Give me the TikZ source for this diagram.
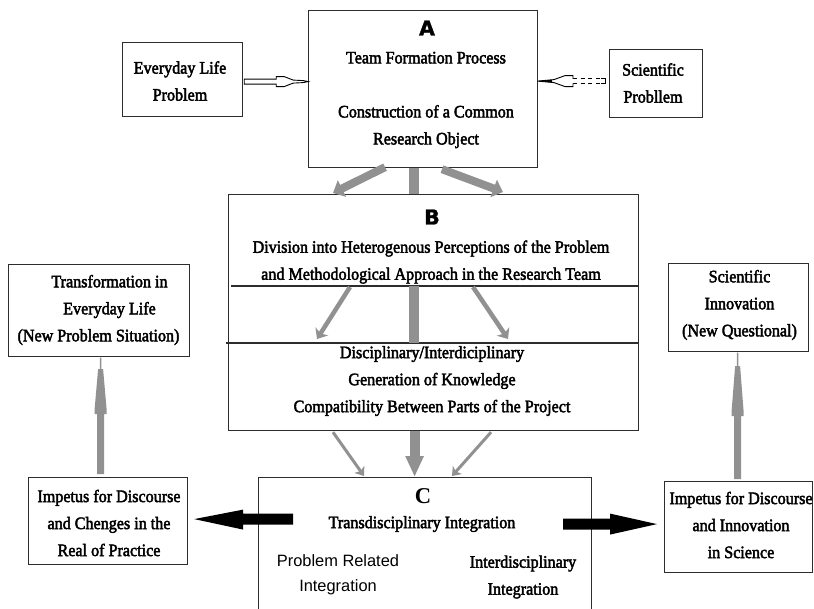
\documentclass[tikz,border=0pt]{standalone}
\usepackage{fontspec}
\setmainfont{Liberation Serif}
\newfontfamily\captxt[FakeStretch=0.92,FakeBold=2.5]{Liberation Serif}
\newfontfamily\heavysans[FakeBold=1.2]{DejaVu Sans Bold}
\newfontfamily\plainsans{Liberation Sans}
\usetikzlibrary{arrows.meta,calc}
\definecolor{arrowgray}{RGB}{145,145,145}
\definecolor{frame}{RGB}{45,45,45}
\begin{document}
\begin{tikzpicture}[x=1pt,y=-1pt,
  box/.style={draw=frame, line width=1.2pt, inner sep=0pt, anchor=north west},
  txt/.style={font=\captxt\fontsize{17.5}{27}\selectfont, align=center, inner sep=0pt},
  sanstxt/.style={font=\plainsans\fontsize{16.4}{25}\selectfont, align=center, inner sep=0pt},
  letter/.style={font=\heavysans\fontsize{20.5}{22}\selectfont, inner sep=0pt},
  thickgray/.style={draw=arrowgray, line width=8pt, -{Triangle[length=10pt,width=18pt]}},
  midgray/.style={draw=arrowgray, line width=4.5pt, -{Stealth[length=9pt,width=15pt,inset=2.5pt]}},
  thingray/.style={draw=arrowgray, line width=3pt, -{Stealth[length=8pt,width=12pt,inset=2pt]}},
  bargray/.style={draw=arrowgray, line width=10pt},
  spike/.style={fill=arrowgray, draw=none},
  blockarrow/.style={fill=black, draw=none},
  hollow/.style={draw=black, fill=white, line width=0.9pt, line join=miter}
]
\useasboundingbox (0,0) rectangle (814,609);
\clip (0,0) rectangle (814,609);

% ---------- boxes ----------
\node[box, minimum width=229pt, minimum height=157pt] (boxA) at (308,10) {};
\node[box, minimum width=120pt, minimum height=74pt] (boxEv) at (122,42) {};
\node[box, minimum width=93pt, minimum height=68pt] (boxSci) at (609,49) {};
\node[box, minimum width=410pt, minimum height=236pt] (boxB) at (228,194) {};
\node[box, minimum width=333pt, minimum height=145pt] (boxC) at (258,477) {};
\node[box, minimum width=181pt, minimum height=92pt] (boxTr) at (8,264) {};
\node[box, minimum width=159pt, minimum height=87pt] (boxImpL) at (28,477) {};
\node[box, minimum width=140pt, minimum height=88pt] (boxSciI) at (668,263) {};
\node[box, minimum width=148pt, minimum height=91pt] (boxImpR) at (664,481) {};

% dividing lines inside B
\draw[frame, line width=1.2pt] ($(boxB.north west)+(3,92)$) -- ($(boxB.north east)+(0,92)$);
\draw[frame, line width=1.2pt] ($(boxB.north west)+(-2,149)$) -- ($(boxB.north east)+(0,149)$);

% ---------- texts ----------
\node[letter] (Ahead) at (427,28) {A};
\node[txt] (Atxt) at (426,100) {Team Formation Process\\[27pt]Construction of a Common\\Research Object};
\node[txt] (evtxt) at (180,81) {Everyday Life\\Problem};
\node[txt] (scitxt) at (653,83) {Scientific\\Probllem};
\node[letter] (Bhead) at (432,217) {B};
\node[txt] (Btop) at (431,262) {Division into Heterogenous Perceptions of the Problem\\and Methodological Approach in the Research Team};
\node[txt] (Bbottom) at (432,381) {Disciplinary/Interdiciplinary\\Generation of Knowledge\\Compatibility Between Parts of the Project};
\node[font=\bfseries\fontsize{22.6}{24}\selectfont, inner sep=0pt] (Chead) at (423,496) {C};
\node[txt] (Ctxt) at (422,524) {Transdisciplinary Integration};
\node[sanstxt] (Cleft) at (338,575) {Problem Related\\Integration};
\node[txt] (Cright) at (523,577) {Interdisciplinary\\Integration};
\node[txt] (trtxt) at (98.5,310) {\hspace*{22pt}Transformation in\\\hspace*{22pt}Everyday Life\\(New Problem Situation)};
\node[txt] (impLtxt) at (109,523) {Impetus for Discourse\\and Chenges in the\\Real of Practice};
\node[txt] (siitxt) at (739.5,305) {Scientific\\Innovation\\(New Questional)};
\node[txt] (impRtxt) at (741,525) {Impetus for Discourse\\and Innovation\\in Science};

% ---------- hollow arrows into A ----------
\draw[hollow, shift={(boxEv.east)}]
  (1,-0.5) -- (33,-0.5) -- (33,-3) -- (41,-3) -- (50,0.5) -- (60,1) -- (65,2)
  -- (60,3) -- (50,3.5) -- (41,7) -- (33,7) -- (33,4.5) -- (1,4.5) -- cycle;
% dashed shaft with its closing bracket
\draw[black, line width=0.9pt, dash pattern=on 4pt off 3.5pt, shift={(boxSci.west)}]
  (-36,-4.8) -- (-8,-4.8) (-36,-0.2) -- (-8,-0.2);
\draw[black, line width=0.9pt, shift={(boxSci.west)}]
  (-8,-4.8) -- (-4,-4.8) -- (-4,-0.2) -- (-8,-0.2);
% solid head
\draw[hollow, shift={(boxSci.west)}]
  (-36,-4.8) -- (-36,-8) -- (-44,-8) -- (-55,-4) -- (-71.5,-2.5)
  -- (-55,-1) -- (-44,3) -- (-36,3) -- (-36,-0.2);
\fill[black, shift={(boxSci.west)}] (-71.5,-2.5) -- (-57,-3.8) -- (-57,-1.2) -- cycle;

% ---------- A to B ----------
\draw[thickgray] ($(boxA.south west)+(77,-1)$) -- ($(boxB.north west)+(105,-1)$);
\draw[bargray] ($(boxA.south)+(-9.5,0)$) -- ($(boxB.north)+(-20,0)$);
\draw[thickgray] ($(boxA.south west)+(134,1)$) -- ($(boxB.north west)+(275,-2)$);

% ---------- inside B ----------
\draw[bargray] ($(boxB.north)+(-20,92)$) -- ($(boxB.north)+(-20,149)$);
\draw[midgray] ($(boxB.north west)+(122,93)$) -- ($(boxB.north west)+(89,145)$);
\draw[midgray] ($(boxB.north west)+(245,93)$) -- ($(boxB.north west)+(280,145)$);

% ---------- B to C ----------
\draw[thingray] ($(boxB.south west)+(105,1)$) -- ($(boxC.north west)+(106,-1)$);
\draw[draw=arrowgray, line width=10pt, -{Triangle[length=21pt,width=17pt]}]
  ($(boxB.south)+(-19,0)$) -- ($(boxC.north)+(-10.5,0)$);
\draw[thingray] ($(boxB.south west)+(263,1)$) -- ($(boxC.north west)+(194,-1)$);

% ---------- outgoing block arrows from C ----------
\fill[blockarrow, shift={(boxImpL.east)}]
  (6,-2) -- (55,-11.5) -- (55,-7.5) -- (105,-7.5) -- (105,3.5) -- (55,3.5) -- (55,8.5) -- cycle;
\fill[blockarrow, shift={(boxImpR.west)}]
  (-101,-8.5) -- (-54,-8.5) -- (-54,-13.5) -- (-7,-3) -- (-54,7.5) -- (-54,2.5) -- (-101,2.5) -- cycle;

% ---------- upward gray spikes ----------
\fill[spike, shift={(boxTr.south)}]
  (0.7,0.5) -- (2.3,0.5) -- (2.3,12) -- (4,12) -- (7.5,52) -- (7.5,57) -- (5,57) -- (5,117)
  -- (-2,117) -- (-2,57) -- (-4.5,57) -- (-4.5,52) -- (-1,12) -- (0.7,12) -- cycle;
\fill[spike, shift={(boxSciI.south)}]
  (-1.8,0.5) -- (-0.2,0.5) -- (-0.2,14) -- (1.5,14) -- (5,59) -- (5,64) -- (2.5,64) -- (2.5,127)
  -- (-4.5,127) -- (-4.5,64) -- (-7,64) -- (-7,59) -- (-3.5,14) -- (-1.8,14) -- cycle;
\end{tikzpicture}
\end{document}
